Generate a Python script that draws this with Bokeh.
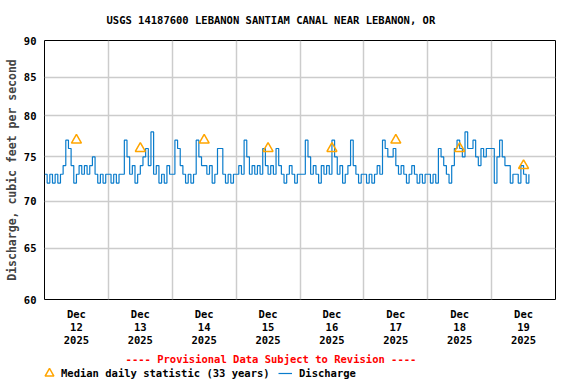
from bokeh.plotting import figure
from bokeh.layouts import column
from bokeh.models import FixedTicker, Label, Legend, LegendItem, Range1d, Title
from bokeh.embed import file_html
from bokeh.resources import INLINE

# ---- data (hourly discharge, cfs, starting Dec 12 2025 00:00) ----
dec12 = [73,72,73,72,73,72,73,74,77,76,74,72,73,74,73,74,73,74,75,73,72,73,72,73]
dec13 = [73,72,73,72,73,73,77,75,73,74,72,73,74,75,76,74,78,73,74,72,73,72,74,73]
dec14 = [73,77,76,74,73,72,73,72,73,77,75,74,74,73,74,72,73,76,76,73,72,73,72,73]
dec15 = [73,74,73,77,75,73,74,73,74,73,76,74,73,74,73,76,74,73,72,73,74,73,72,73]
dec16 = [73,73,77,75,73,74,73,72,74,73,74,73,77,75,73,74,72,73,74,77,74,73,72,73]
dec17 = [73,72,73,72,73,74,73,77,76,75,75,76,74,73,74,73,72,73,74,73,72,73,72,73]
dec18 = [73,72,73,72,76,75,74,73,72,74,76,77,76,75,78,76,76,77,75,74,76,75,76,76]
dec19 = [76,72,75,77,75,74,74,72,73,73,72,74,73,72,73]
discharge = dec12 + dec13 + dec14 + dec15 + dec16 + dec17 + dec18 + dec19
hours = list(range(len(discharge)))

median_hours = [12, 36, 60, 84, 108, 132, 156, 180]
median_values = [77, 76, 77, 76, 76, 77, 76, 74]

day_labels = ["Dec\n12\n2025", "Dec\n13\n2025", "Dec\n14\n2025", "Dec\n15\n2025",
              "Dec\n16\n2025", "Dec\n17\n2025", "Dec\n18\n2025", "Dec\n19\n2025"]
day_bounds = [24, 48, 72, 96, 120, 144, 168]
y_ticks = [60, 65, 70, 75, 80, 85, 90]

FONT = "DejaVu Sans Mono"
LINE_COLOR = "#0a7ccc"
MEDIAN_COLOR = "#ffa500"

p = figure(frame_width=511, frame_height=259, output_backend="svg", toolbar_location=None,
           y_axis_type="log", x_range=Range1d(0, 192), y_range=Range1d(60, 90),
           min_border_left=44, min_border_right=21, min_border_top=40, min_border_bottom=51)
p.outline_line_color = "black"
p.outline_line_width = 1
p.background_fill_color = "white"
p.border_fill_color = "white"

p.title = Title(text="USGS 14187600 LEBANON SANTIAM CANAL NEAR LEBANON, OR",
                align="left", offset=62, standoff=26, vertical_align="top",
                text_font=FONT, text_font_style="bold", text_font_size="10.5px",
                text_color="black")

# axes
p.xaxis.ticker = FixedTicker(ticks=median_hours, minor_ticks=[])
p.xaxis.major_label_overrides = {h: lab for h, lab in zip(median_hours, day_labels)}
p.yaxis.ticker = FixedTicker(ticks=y_ticks, minor_ticks=[])
p.yaxis.major_label_overrides = {v: str(v) for v in y_ticks}
for ax in (p.xaxis[0], p.yaxis[0]):
    ax.axis_line_color = None
    ax.major_tick_line_color = None
    ax.minor_tick_line_color = None
    ax.major_tick_out = 0
    ax.major_tick_in = 0
    ax.minor_tick_out = 0
    ax.minor_tick_in = 0
    ax.major_label_text_font = FONT
    ax.major_label_text_font_style = "bold"
    ax.major_label_text_font_size = "10.5px"
    ax.major_label_text_color = "black"
p.xaxis.major_label_standoff = 8
p.xaxis.major_label_text_line_height = 1.1
p.yaxis.major_label_standoff = 8
p.yaxis.axis_label = "Discharge, cubic feet per second"
p.yaxis.axis_label_text_font = FONT
p.yaxis.axis_label_text_font_style = "bold"
p.yaxis.axis_label_text_font_size = "11.5px"
p.yaxis.axis_label_standoff = 2

# grids
p.xgrid.ticker = FixedTicker(ticks=day_bounds, minor_ticks=[])
p.xgrid.grid_line_color = "#cccccc"
p.xgrid.grid_line_width = 1.5
p.ygrid.grid_line_color = "#cccccc"
p.ygrid.grid_line_width = 1.5

p.step(hours, discharge, mode="after", line_color=LINE_COLOR, line_width=1.2)
p.scatter(median_hours, median_values, marker="triangle", size=10,
          fill_color=None, line_color=MEDIAN_COLOR, line_width=1.5)

# ---- footer: provisional note + legend (its frame is aligned with the plot frame) ----
f = figure(width=576, height=34, output_backend="svg", toolbar_location=None,
           x_range=Range1d(-2, -1), y_range=Range1d(0, 1),
           x_axis_location=None, y_axis_location=None,
           min_border_left=0, min_border_right=0, min_border_top=0, min_border_bottom=0)
f.outline_line_color = None
f.grid.visible = False
f.background_fill_color = "white"
f.border_fill_color = "white"

# legend key renderers (same series, kept outside the footer's visible range)
med_key = f.scatter(median_hours, median_values, marker="triangle", fill_color=None,
                    line_color=MEDIAN_COLOR, line_width=1.5)
line_key = f.step(hours, discharge, mode="after", line_color=LINE_COLOR, line_width=1.2)

prov = Label(x=226.5, y=26, x_units="screen", y_units="screen",
             text="---- Provisional Data Subject to Revision ----",
             text_font=FONT, text_font_style="bold", text_font_size="10.5px",
             text_align="center", text_baseline="middle", text_color="red")
f.add_layout(prov)

common = dict(orientation="horizontal", padding=0, margin=0, border_line_color=None,
              background_fill_alpha=0, label_text_font=FONT, label_text_font_style="bold",
              label_text_font_size="10.5px", label_text_color="black")
leg_a = Legend(items=[LegendItem(label="Median daily statistic (33 years)", renderers=[med_key])],
               location=(-6, 0), glyph_width=22, glyph_height=22, label_standoff=1,
               label_height=13, **common)
leg_b = Legend(items=[LegendItem(label="Discharge", renderers=[line_key])],
               location=(234, 4), glyph_width=14, glyph_height=14, label_standoff=7,
               label_height=13, **common)
f.add_layout(leg_a, "center")
f.add_layout(leg_b, "center")

layout = column(p, f, spacing=0)
open("out.html", "w").write(file_html(layout, INLINE))
